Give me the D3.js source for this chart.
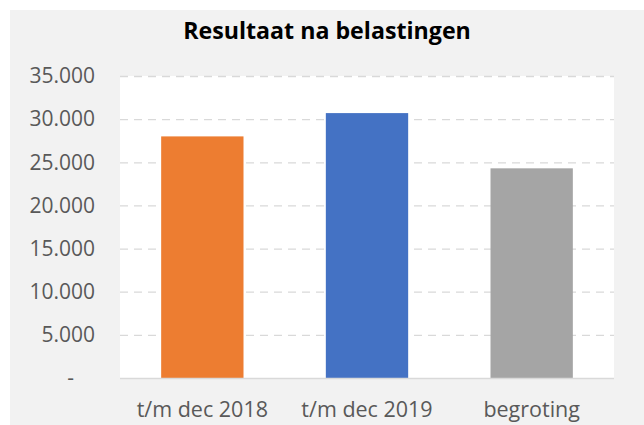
<!DOCTYPE html>
<html><head><meta charset="utf-8">
<script src="https://cdn.jsdelivr.net/npm/d3@7"></script>
<style>body{margin:0;background:#fff}svg{display:block}text{font-family:"Open Sans",sans-serif}</style>
</head><body>
<svg id="c" width="644" height="425"></svg>
<script>
const categories = ["t/m dec 2018", "t/m dec 2019", "begroting"];
const values = [28000, 30700, 24300];
const colors = ["#ED7D31", "#4472C4", "#A5A5A5"];
const yTicks = [0, 5000, 10000, 15000, 20000, 25000, 30000, 35000];
const title = "Resultaat na belastingen";

const svg = d3.select("#c");
svg.append("rect").attr("x",10).attr("y",10).attr("width",634).attr("height",415).attr("fill","#F2F2F2");
const m = {l:120, r:614, t:76, b:378};
svg.append("rect").attr("x",m.l).attr("y",m.t).attr("width",m.r-m.l).attr("height",m.b-m.t).attr("fill","#fff");

const x = d3.scaleBand().domain(categories).range([m.l, m.r]).paddingInner(0.5).paddingOuter(0.25);
const y = d3.scaleLinear().domain([0,35000]).range([m.b, m.t]);

const fmt = v => v === 0 ? "-" : d3.format(",")(v).replace(/,/g, ".");

// gridlines
svg.append("g").selectAll("line").data(yTicks.filter(d=>d>0)).join("line")
  .attr("x1",m.l).attr("x2",m.r).attr("y1",d=>y(d)+0.5).attr("y2",d=>y(d)+0.5)
  .attr("stroke","#D9D9D9").attr("stroke-width",1.3).attr("stroke-dasharray","8,6");

// bars
svg.append("g").selectAll("rect").data(values).join("rect")
  .attr("x",(d,i)=>x(categories[i])).attr("width",x.bandwidth())
  .attr("y",d=>y(d)).attr("height",d=>y(0)-y(d)).attr("fill",(d,i)=>colors[i]);

// baseline
svg.append("line").attr("x1",m.l).attr("x2",m.r).attr("y1",y(0)+0.5).attr("y2",y(0)+0.5)
  .attr("stroke","#D9D9D9").attr("stroke-width",1.3);

// y axis
const ya = svg.append("g").attr("transform",`translate(${m.l},0)`)
  .call(d3.axisLeft(y).tickValues(yTicks).tickFormat(fmt).tickSize(0).tickPadding(25));
ya.select(".domain").remove();
ya.selectAll("text").attr("fill","#595959").style("font-size","21px")
  .attr("dx",d=>d===0?-21:0);

// x axis
const xa = svg.append("g").attr("transform",`translate(0,${m.b})`)
  .call(d3.axisBottom(x).tickSize(0).tickPadding(24));
xa.select(".domain").remove();
xa.selectAll("text").attr("fill","#595959").style("font-size","21.5px");

svg.append("text").attr("x",327).attr("y",39).attr("text-anchor","middle")
  .style("font-size","23.2px").style("font-weight","bold").attr("fill","#000").text(title);
</script>
</body></html>
